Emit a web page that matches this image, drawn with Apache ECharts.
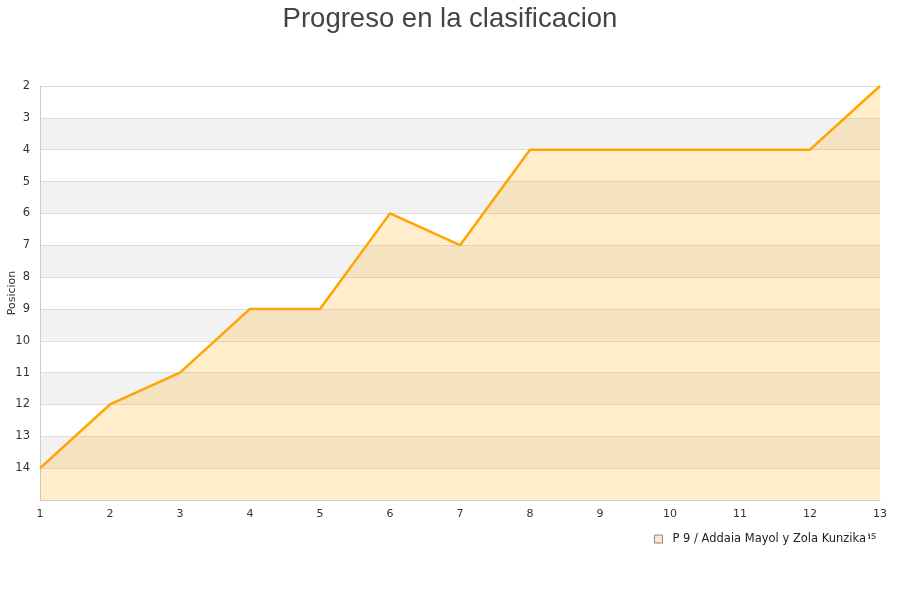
<!DOCTYPE html>
<html><head><meta charset="utf-8">
<script src="https://cdn.jsdelivr.net/npm/echarts@6/dist/echarts.min.js"></script>
<style>html,body{margin:0;padding:0;background:#fff}#c{width:900px;height:600px}</style>
</head><body><div id="c"></div>
<script>
const jornadas = ['1','2','3','4','5','6','7','8','9','10','11','12','13'];
const posiciones = [14,12,11,9,9,6,7,4,4,4,4,4,2];
const serieNombre = 'P 9 / Addaia Mayol y Zola Kunzika';
const titulo = 'Progreso en la clasificacion';

const chart = echarts.init(document.getElementById('c'));
chart.setOption({
  animation:false,
  title:{text:titulo,left:'center',top:0,textStyle:{fontFamily:'Liberation Sans, Arial',fontSize:27.5,fontWeight:'normal',color:'#444'}},
  grid:{left:40,right:20,top:86,bottom:100,containLabel:false,outerBoundsMode:'none'},
  legend:{data:[{name:serieNombre,itemStyle:{color:'#ffe9c4',borderColor:'#8a8a8a',borderWidth:1}}],
    right:32,top:530,itemWidth:8,itemHeight:8,itemGap:9,icon:'rect',
    backgroundColor:'#fff',padding:[3,2,3,4],z:10,
    textStyle:{fontFamily:'DejaVu Sans',fontSize:11.5,color:'#222',padding:[0,0,0,5]}},
  xAxis:{type:'category',data:jornadas,boundaryGap:false,
    name:'Jornadas',nameLocation:'end',nameGap:-47,
    nameTextStyle:{fontFamily:'DejaVu Sans',fontSize:10,color:'#333',verticalAlign:'top',padding:[31,0,0,0]},
    axisLine:{lineStyle:{color:'#ccc'}},axisTick:{show:false},
    axisLabel:{fontFamily:'DejaVu Sans',fontSize:11,color:'#333',margin:9},
    splitLine:{show:false}},
  yAxis:{type:'value',inverse:true,min:2,max:15,interval:1,
    name:'Posicion',nameLocation:'middle',nameGap:22,nameMoveOverlap:false,
    nameTextStyle:{fontFamily:'DejaVu Sans',fontSize:11,color:'#333'},
    axisLine:{show:true,lineStyle:{color:'#ccc'}},axisTick:{show:false},
    axisLabel:{fontFamily:'DejaVu Sans',fontSize:11.5,color:'#333',margin:10,
      formatter:function(v){return v===15?'':v;}},
    splitLine:{show:true,lineStyle:{color:'#ddd'}},
    splitArea:{show:true,areaStyle:{color:['#ffffff','#f2f2f2']}}},
  series:[{name:serieNombre,type:'line',data:posiciones,symbol:'none',
    lineStyle:{color:'#ffa500',width:2.5},
    itemStyle:{color:'#ffebcc',borderColor:'#ffa500',borderWidth:1},
    areaStyle:{color:'#ffa500',opacity:0.2,origin:'end'}}]
});
</script></body></html>
